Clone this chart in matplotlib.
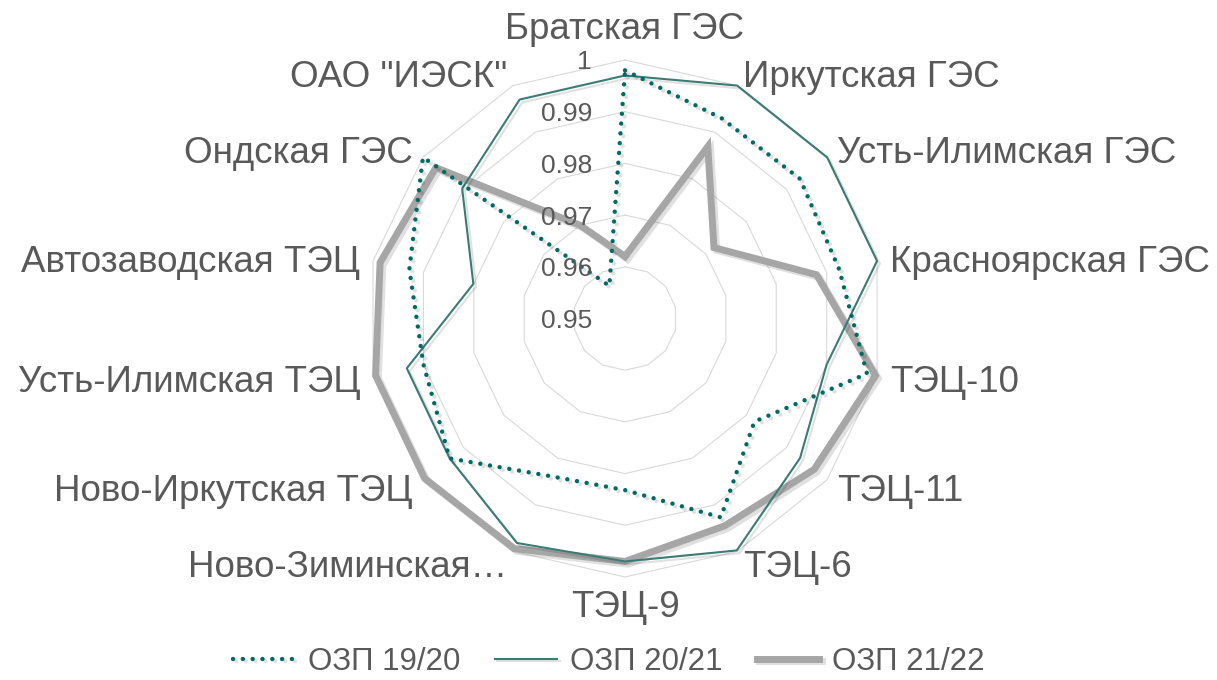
import numpy as np
import matplotlib
matplotlib.use('Agg')
import matplotlib.pyplot as plt
from matplotlib import patheffects as pe

plt.rcParams['font.family'] = ['Liberation Sans', 'DejaVu Sans']

categories = ['Братская ГЭС', 'Иркутская ГЭС', 'Усть-Илимская ГЭС',
              'Красноярская ГЭС', 'ТЭЦ-10', 'ТЭЦ-11', 'ТЭЦ-6', 'ТЭЦ-9',
              'Ново-Зиминская…', 'Ново-Иркутская ТЭЦ', 'Усть-Илимская ТЭЦ',
              'Автозаводская ТЭЦ', 'Ондская ГЭС', 'ОАО "ИЭСК"']
ozp_19_20 = [0.998, 0.993, 0.9933, 0.9925, 0.998, 0.982, 0.9927,
             0.9832, 0.9838, 0.9934, 0.990, 0.9928, 1.0, 0.957]
ozp_20_21 = [0.997, 1.0, 1.0, 1.0, 0.990, 0.9933, 0.9998,
             0.997, 0.9982, 0.9934, 0.9933, 0.9801, 0.9903, 0.997]
ozp_21_22 = [0.962, 0.9869, 0.972, 0.988, 0.9997, 0.9968, 0.9945,
             0.997, 0.9994, 0.9996, 0.9995, 0.9986, 0.9968, 0.970]
series_names = ['ОЗП 19/20', 'ОЗП 20/21', 'ОЗП 21/22']
r_ticks = [0.95, 0.96, 0.97, 0.98, 0.99, 1.0]
r_tick_labels = ['0.95', '0.96', '0.97', '0.98', '0.99', '1']

txt = '#595959'
n = len(categories)
theta = np.arange(n) * 2 * np.pi / n
theta_c = np.append(theta, theta[0])


def closed(v):
    return np.append(v, v[0])


fig = plt.figure(figsize=(12.17, 6.8), dpi=100)
ax = fig.add_axes([0.3012, 0.1515, 0.4248, 0.7603], projection='polar')
ax.set_theta_zero_location('N')
ax.set_theta_direction(-1)
ax.set_ylim(0.95, 1.0)
ax.set_xticks([])
ax.set_yticks([])
ax.grid(False)
ax.spines['polar'].set_visible(False)

# polygon grid
for lev in r_ticks[1:]:
    ax.plot(theta_c, [lev] * (n + 1), color='#d9d9d9', lw=0.8, zorder=1,
            clip_on=False)

shadow = [pe.SimpleLineShadow(offset=(2, -2), shadow_color='k', alpha=0.12),
          pe.Normal()]

ax.plot(theta_c, closed(ozp_21_22), color='#a6a6a6', lw=5, zorder=3,
        solid_joinstyle='miter', clip_on=False, path_effects=shadow,
        label=series_names[2])
ax.plot(theta_c, closed(ozp_20_21), color='#3a7b76', lw=1.5, zorder=4,
        clip_on=False, path_effects=shadow, label=series_names[1])
ax.plot(theta_c, closed(ozp_19_20), color='#006b66', lw=3.2, zorder=5,
        linestyle=(0, (0.01, 2.2)), dash_capstyle='round', clip_on=False,
        path_effects=shadow, label=series_names[0])

# category labels
for t, lab in zip(theta, categories):
    s, c = np.sin(t), np.cos(t)
    if s > 0.1:
        ha = 'left'
    elif s < -0.1:
        ha = 'right'
    else:
        ha = 'center'
    if c > 0.95:
        va = 'bottom'
    elif c < -0.95:
        va = 'top'
    else:
        va = 'center_baseline'
    ax.annotate(lab, xy=(t, 1.0), xytext=(13 * s, 13 * c),
                textcoords='offset pixels', ha=ha, va=va, fontsize=26.5,
                color=txt, annotation_clip=False)

# radial tick labels
for lev, lab in zip(r_ticks, r_tick_labels):
    ax.annotate(lab, xy=(0, lev), xytext=(-33, 0), textcoords='offset pixels',
                ha='right', va='center_baseline', fontsize=19, color=txt,
                zorder=6, annotation_clip=False)

h, l = ax.get_legend_handles_labels()
order = [2, 1, 0]
leg = fig.legend([h[i] for i in order], [l[i] for i in order], loc='center',
                 bbox_to_anchor=(0.5, 0.027), ncol=3, frameon=False,
                 fontsize=22.5, handlelength=2.0, handletextpad=0.4,
                 columnspacing=1.1)
for t in leg.get_texts():
    t.set_color(txt)

fig.savefig('out.png', dpi=100)
